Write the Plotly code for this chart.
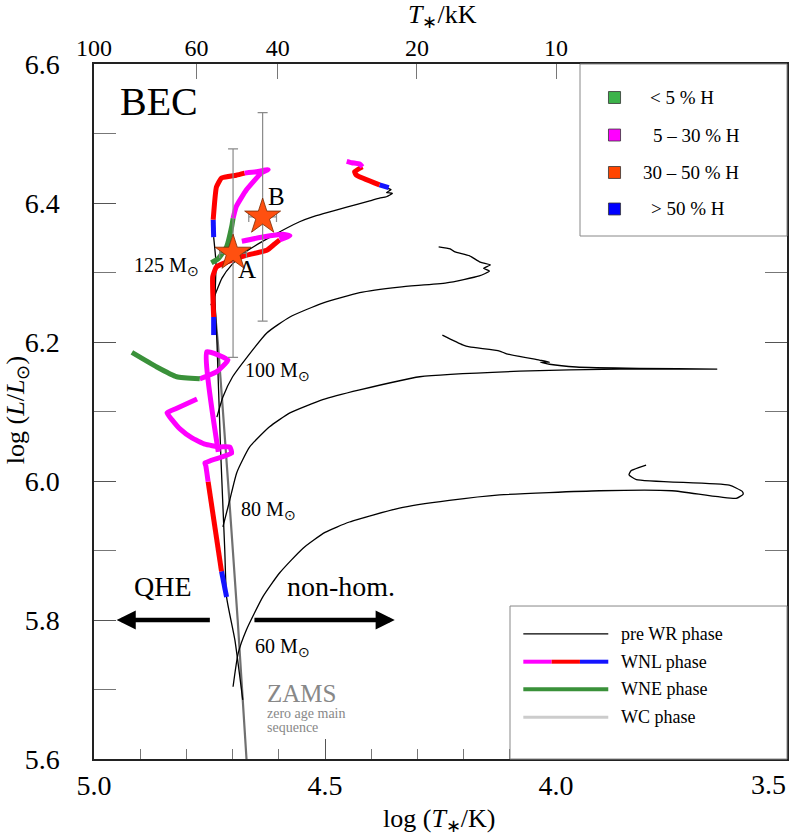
import numpy as np
import plotly.graph_objects as go

# ---------------- data (log T*, log L) ----------------
ZAMS_T = [4.745, 4.732, 4.710, 4.689, 4.668]
ZAMS_L = [6.29, 6.20, 6.00, 5.80, 5.58]

QHE_PRE_T = [4.678, 4.695, 4.713, 4.717, 4.726, 4.734, 4.738, 4.736, 4.741]
QHE_PRE_L = [5.685, 5.771, 5.833, 5.901, 6.045, 6.203, 6.260, 6.314, 6.351]

M125_PRE_T = [4.747, 4.738, 4.723, 4.702, 4.669, 4.613, 4.555, 4.527, 4.453, 4.403, 4.382, 4.367, 4.354, 4.367, 4.357, 4.364]
M125_PRE_L = [6.253, 6.268, 6.292, 6.311, 6.331, 6.353, 6.373, 6.380, 6.394, 6.403, 6.407, 6.409, 6.414, 6.415, 6.419, 6.421]
M125_BLUE_T = [4.362, 4.382]
M125_BLUE_L = [6.422, 6.426]
M125_RED_T = [4.382, 4.432, 4.436, 4.419]
M125_RED_L = [6.426, 6.440, 6.445, 6.452]
M125_MAG_T = [4.419, 4.425, 4.442, 4.453]
M125_MAG_L = [6.452, 6.456, 6.458, 6.460]

M100_PRE_T = [4.734, 4.721, 4.700, 4.669, 4.626, 4.576, 4.505, 4.425, 4.339, 4.237, 4.166, 4.144, 4.157, 4.142, 4.164, 4.187, 4.220, 4.229, 4.254]
M100_PRE_L = [6.092, 6.121, 6.150, 6.178, 6.213, 6.236, 6.256, 6.271, 6.279, 6.285, 6.295, 6.302, 6.306, 6.311, 6.315, 6.324, 6.330, 6.334, 6.337]

M80_PRE_T = [4.721, 4.706, 4.691, 4.663, 4.620, 4.576, 4.505, 4.425, 4.295, 4.079, 3.863, 3.651, 3.820, 3.956, 4.014, 4.034, 4.014, 4.036, 4.107, 4.122, 4.187, 4.202, 4.246]
M80_PRE_L = [5.934, 5.973, 6.012, 6.049, 6.078, 6.098, 6.117, 6.131, 6.150, 6.158, 6.161, 6.161, 6.162, 6.164, 6.168, 6.171, 6.171, 6.174, 6.183, 6.187, 6.193, 6.196, 6.210]

M60_PRE_T = [4.699, 4.688, 4.670, 4.634, 4.598, 4.548, 4.500, 4.447, 4.339, 4.231, 4.122, 3.906, 3.749, 3.610, 3.595, 3.597, 3.625, 3.826, 3.842, 3.837, 3.805]
M60_PRE_L = [5.704, 5.752, 5.786, 5.834, 5.868, 5.903, 5.926, 5.941, 5.961, 5.972, 5.980, 5.986, 5.986, 5.975, 5.981, 5.985, 5.994, 6.002, 6.009, 6.015, 6.023]

# homogeneous (QHE) WR phases
Q60_BLUE_T = [4.713, 4.724]
Q60_BLUE_L = [5.833, 5.870]
Q60_RED_T = [4.724, 4.753]
Q60_RED_L = [5.870, 5.999]
Q60_MAG_T = [4.753, 4.758, 4.760, 4.702, 4.706, 4.728, 4.760, 4.788, 4.814, 4.831, 4.842, 4.823, 4.777]
Q60_MAG_L = [5.999, 6.022, 6.026, 6.040, 6.049, 6.049, 6.053, 6.062, 6.075, 6.088, 6.098, 6.104, 6.118]

Q100_MAG_T = [4.731, 4.756, 4.710, 4.735, 4.771]
Q100_MAG_L = [6.042, 6.186, 6.174, 6.157, 6.147]
Q100_WNE_T = [4.771, 4.821, 4.864, 4.918]
Q100_WNE_L = [6.147, 6.150, 6.164, 6.185]

Q125A_BLUE_T = [4.741, 4.742]
Q125A_BLUE_L = [6.351, 6.376]
Q125A_RED_T = [4.742, 4.735, 4.724, 4.692, 4.674]
Q125A_RED_L = [6.376, 6.423, 6.436, 6.440, 6.443]
Q125A_MAG_T = [4.674, 4.648, 4.623, 4.638, 4.670, 4.692, 4.699]
Q125A_MAG_L = [6.443, 6.445, 6.448, 6.443, 6.419, 6.395, 6.378]
Q125A_WNE_T = [4.699, 4.702, 4.713, 4.731, 4.746]
Q125A_WNE_L = [6.378, 6.366, 6.337, 6.320, 6.314]

Q125B_BLUE_T = [4.741, 4.741]
Q125B_BLUE_L = [6.210, 6.236]
Q125B_RED_T = [4.741, 4.743, 4.735, 4.713, 4.669, 4.626, 4.609, 4.598]
Q125B_RED_L = [6.236, 6.294, 6.308, 6.315, 6.325, 6.332, 6.341, 6.347]
Q125B_MAG_T = [4.598, 4.576, 4.591, 4.635, 4.680]
Q125B_MAG_L = [6.347, 6.353, 6.355, 6.351, 6.345]

# observed stars
STAR_NAMES = ["A", "B"]
STAR_T = [4.699, 4.635]
STAR_L = [6.328, 6.380]
STAR_ERR_T = [0.029, 0.030]
STAR_ERR_L = [0.150, 0.150]

# axes
TOP_KK = [100, 60, 40, 20, 10]
MASS_LABELS = ["125 M<sub>⊙</sub>", "100 M<sub>⊙</sub>", "80 M<sub>⊙</sub>", "60 M<sub>⊙</sub>"]
MASS_LABEL_T = [4.843, 4.602, 4.622, 4.593]
MASS_LABEL_L = [6.308, 6.157, 5.958, 5.760]

H_CLASSES = ["&lt; 5 % H", "5 – 30 % H", "30 – 50 % H", "&gt; 50 % H"]
H_COLORS = ["#3cb34a", "#ff00ff", "#ff4500", "#0000ff"]
PHASES = ["pre WR phase", "WNL phase", "WNE phase", "WC phase"]

MAG, RED, BLUE, GREEN = "#ff00ff", "#ff0000", "#1414ff", "#3a913a"
FONT = "Liberation Serif"

fig = go.Figure()


def line(xs, ys, color, width, smooth=0.5):
    fig.add_trace(go.Scatter(x=xs, y=ys, mode="lines",
                             line=dict(color=color, width=width, shape="spline", smoothing=smooth),
                             hoverinfo="skip", showlegend=False))


line(ZAMS_T, ZAMS_L, "#707070", 2.2, 0.3)
for xs, ys in [(QHE_PRE_T, QHE_PRE_L), (M125_PRE_T, M125_PRE_L), (M100_PRE_T, M100_PRE_L),
               (M80_PRE_T, M80_PRE_L), (M60_PRE_T, M60_PRE_L)]:
    line(xs, ys, "black", 1.3, 0.5)

W = 5
for xs, ys, c in [
    (M125_BLUE_T, M125_BLUE_L, BLUE), (M125_RED_T, M125_RED_L, RED), (M125_MAG_T, M125_MAG_L, MAG),
    (Q60_BLUE_T, Q60_BLUE_L, BLUE), (Q60_RED_T, Q60_RED_L, RED), (Q60_MAG_T, Q60_MAG_L, MAG),
    (Q100_MAG_T, Q100_MAG_L, MAG), (Q100_WNE_T, Q100_WNE_L, GREEN),
    (Q125B_BLUE_T, Q125B_BLUE_L, BLUE), (Q125B_RED_T, Q125B_RED_L, RED), (Q125B_MAG_T, Q125B_MAG_L, MAG),
    (Q125A_BLUE_T, Q125A_BLUE_L, BLUE), (Q125A_RED_T, Q125A_RED_L, RED), (Q125A_MAG_T, Q125A_MAG_L, MAG),
    (Q125A_WNE_T, Q125A_WNE_L, GREEN),
]:
    line(xs, ys, c, W, 0.4)

fig.add_trace(go.Scatter(
    x=STAR_T, y=STAR_L, mode="markers",
    marker=dict(symbol="star", size=27, color="#ff5010", line=dict(color="#7a2a00", width=0.8)),
    error_x=dict(type="data", array=STAR_ERR_T, visible=True, color="#8a8a8a", thickness=1.2, width=5),
    error_y=dict(type="data", array=STAR_ERR_L, visible=True, color="#8a8a8a", thickness=1.2, width=5),
    hoverinfo="skip", showlegend=False))

# invisible trace to carry top axis
fig.add_trace(go.Scatter(x=[4.5], y=[6.0], xaxis="x2", mode="markers",
                         marker=dict(opacity=0), hoverinfo="skip", showlegend=False))


def txt(x, y, text, size, ref="data", color="black", xanchor="center", angle=0):
    r = "x" if ref == "data" else "paper"
    r2 = "y" if ref == "data" else "paper"
    return dict(x=x, y=y, xref=r, yref=r2, text=text, showarrow=False, xanchor=xanchor, yanchor="middle",
                textangle=angle, font=dict(size=size, color=color, family=FONT))


ann = []
for t, tx, ly in zip(MASS_LABELS, MASS_LABEL_T, MASS_LABEL_L):
    ann.append(txt(tx, ly, t, 20))
for name, tx, ly in zip(STAR_NAMES, [4.668, 4.604], [6.305, 6.410]):
    ann.append(txt(tx, ly, name, 25))
ann += [
    txt(4.860, 6.546, "BEC", 40),
    txt(4.851, 5.848, "QHE", 28),
    txt(4.465, 5.848, "non-hom.", 28),
    txt(4.630, 5.694, "ZAMS", 25, color="#888888", xanchor="left"),
    txt(4.630, 5.665, "zero age main", 14, color="#888888", xanchor="left"),
    txt(4.630, 5.646, "sequence", 14, color="#888888", xanchor="left"),
    # arrows
    dict(x=4.951, y=5.800, ax=4.746, ay=5.800, xref="x", yref="y", axref="x", ayref="y",
         text="", showarrow=True, arrowhead=2, arrowwidth=4.5, arrowsize=0.85, arrowcolor="black"),
    dict(x=4.349, y=5.800, ax=4.656, ay=5.800, xref="x", yref="y", axref="x", ayref="y",
         text="", showarrow=True, arrowhead=2, arrowwidth=4.5, arrowsize=0.85, arrowcolor="black"),
    # axis titles
    txt(-0.111, 0.502, "log (<i>L</i>/<i>L</i><sub>⊙</sub>)", 26, ref="paper", angle=-90),
    txt(0.499, -0.088, "log (<i>T</i><sub>∗</sub>/K)", 26, ref="paper"),
    txt(0.5036, 1.069, "<i>T</i><sub>∗</sub>/kK", 26, ref="paper"),
    # last bottom tick label, kept inside the page edge
    txt(1.0014, -0.0374, "3.5", 28, ref="paper", xanchor="right"),
]

shapes = []
# legend box: hydrogen classes
shapes.append(dict(type="rect", xref="paper", yref="paper", x0=0.7013, x1=1.0, y0=0.7525, y1=1.0,
                   line=dict(color="#888888", width=1), fillcolor="white", layer="above"))
sq_y = [0.9518, 0.8978, 0.8439, 0.7914]
txt_x = [0.8485, 0.8687, 0.8615, 0.8571]
for c, yy, t, tx in zip(H_COLORS, sq_y, H_CLASSES, txt_x):
    shapes.append(dict(type="rect", xref="paper", yref="paper", x0=0.7511 - 0.0087, x1=0.7511 + 0.0087,
                       y0=yy - 0.0086, y1=yy + 0.0086, fillcolor=c, line=dict(color="#333333", width=0.8),
                       layer="above"))
    ann.append(txt(tx, yy, t, 19, ref="paper"))

# legend box: phases
shapes.append(dict(type="rect", xref="paper", yref="paper", x0=0.6003, x1=1.0, y0=0.0, y1=0.2201,
                   line=dict(color="#888888", width=1), fillcolor="white", layer="above"))
leg_y = [0.1799, 0.1400, 0.1003, 0.0600]
lx0, lx1 = 0.6195, 0.7421
seg = (lx1 - lx0) / 3
shapes.append(dict(type="line", xref="paper", yref="paper", x0=lx0, x1=lx1, y0=leg_y[0], y1=leg_y[0],
                   line=dict(color="black", width=1.3), layer="above"))
for i, c in enumerate([MAG, RED, BLUE]):
    shapes.append(dict(type="line", xref="paper", yref="paper", x0=lx0 + i * seg, x1=lx0 + (i + 1) * seg,
                       y0=leg_y[1], y1=leg_y[1], line=dict(color=c, width=4), layer="above"))
shapes.append(dict(type="line", xref="paper", yref="paper", x0=lx0, x1=lx1, y0=leg_y[2], y1=leg_y[2],
                   line=dict(color=GREEN, width=4), layer="above"))
shapes.append(dict(type="line", xref="paper", yref="paper", x0=lx0, x1=lx1, y0=leg_y[3], y1=leg_y[3],
                   line=dict(color="#cccccc", width=3), layer="above"))
for t, yy in zip(PHASES, leg_y):
    ann.append(txt(0.7580, yy, t, 18, ref="paper", xanchor="left"))

fig.update_layout(
    width=789, height=836,
    margin=dict(l=94, r=2, t=64, b=77, autoexpand=False),
    paper_bgcolor="white", plot_bgcolor="white",
    font=dict(family=FONT, color="black"),
    showlegend=False,
    xaxis=dict(range=[5.0, 3.5], tick0=3.5, dtick=0.5, tickformat=".1f", ticks="inside", ticklen=20,
               tickwidth=1, tickcolor="#555555", showline=True, linecolor="#222222", linewidth=1.5,
               mirror=True, showgrid=False, zeroline=False, automargin=False,
               tickfont=dict(size=28, family=FONT), ticklabelstandoff=1,
               minor=dict(tick0=3.5, dtick=0.1, ticks="inside", ticklen=10, tickcolor="#777777", tickwidth=1)),
    xaxis2=dict(overlaying="x", side="top", range=[5.0, 3.5], tickmode="array",
                tickvals=[float(np.log10(k * 1000.0)) for k in TOP_KK], ticktext=[str(k) for k in TOP_KK],
                ticks="inside", ticklen=15, tickwidth=1, tickcolor="#777777", showline=False,
                showgrid=False, zeroline=False, automargin=False,
                tickfont=dict(size=24, family=FONT), ticklabelstandoff=2),
    yaxis=dict(range=[5.6, 6.6], tick0=5.6, dtick=0.2, tickformat=".1f", ticks="inside", ticklen=22,
               tickwidth=1, tickcolor="#555555", showline=True, linecolor="#222222", linewidth=1.5,
               mirror="allticks", showgrid=False, zeroline=False, automargin=False,
               tickfont=dict(size=28, family=FONT), ticklabelstandoff=27,
               minor=dict(tick0=5.6, dtick=0.1, ticks="inside", ticklen=12, tickcolor="#777777", tickwidth=1)),
    annotations=ann,
    shapes=shapes,
)

fig.write_html("out.html", config={"displayModeBar": False},
               post_script="document.body.style.margin='0px';document.body.style.padding='0px';"
                           "document.body.style.overflow='hidden';")
